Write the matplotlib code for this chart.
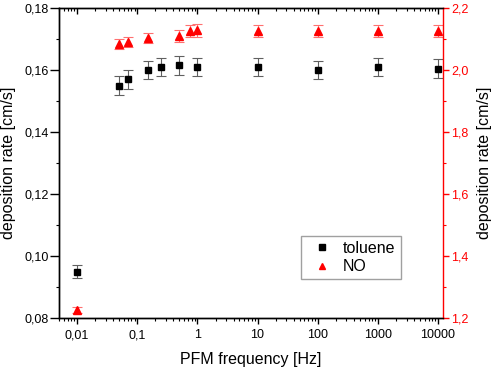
import numpy as np
import matplotlib
matplotlib.use('Agg')
import matplotlib.pyplot as plt
from matplotlib.ticker import FixedLocator, LogLocator, MultipleLocator, FuncFormatter, NullFormatter

plt.rcParams['font.family'] = ['Liberation Sans', 'DejaVu Sans']

# toluene (left axis)
tol_freq = [0.01, 0.05, 0.07, 0.15, 0.25, 0.5, 1, 10, 100, 1000, 10000]
tol_rate = [0.095, 0.155, 0.157, 0.160, 0.161, 0.1615, 0.161, 0.161, 0.160, 0.161, 0.1605]
tol_err = [0.002, 0.003, 0.003, 0.003, 0.003, 0.003, 0.003, 0.003, 0.003, 0.003, 0.003]

# NO (right axis)
no_freq = [0.01, 0.05, 0.07, 0.15, 0.5, 0.75, 1, 10, 100, 1000, 10000]
no_rate = [1.226, 2.084, 2.09, 2.104, 2.11, 2.127, 2.128, 2.127, 2.127, 2.127, 2.127]
no_err = [0.01, 0.017, 0.017, 0.017, 0.02, 0.02, 0.02, 0.02, 0.02, 0.02, 0.02]

xticks = [0.01, 0.1, 1, 10, 100, 1000, 10000]
xtick_labels = ['0,01', '0,1', '1', '10', '100', '1000', '10000']

red = '#ff0000'

fig = plt.figure(figsize=(4.98, 3.70), dpi=100)
ax = fig.add_axes([0.1185, 0.1405, 0.771, 0.8375])
ax2 = ax.twinx()
ax2.xaxis.set_visible(True)

ax.errorbar(tol_freq, tol_rate, yerr=tol_err, fmt='s', color='black', ms=4.5,
            ecolor='#606060', elinewidth=0.8, capsize=3.5, capthick=0.8, label='toluene')
ax2.errorbar(no_freq, no_rate, yerr=no_err, fmt='^', color=red, ms=6,
             ecolor='#ff7070', elinewidth=0.8, capsize=3.5, capthick=0.8, label='NO')

ax.set_xscale('log')
ax.set_xlim(0.005, 12100)
ax.set_ylim(0.08, 0.18)
ax2.set_ylim(1.2, 2.2)

ax.xaxis.set_major_locator(FixedLocator(xticks))
ax.set_xticklabels(xtick_labels)
ax.xaxis.set_minor_locator(LogLocator(base=10, subs=np.arange(2, 10), numticks=200))
ax.xaxis.set_minor_formatter(NullFormatter())

ax.yaxis.set_major_locator(MultipleLocator(0.02))
ax.yaxis.set_minor_locator(MultipleLocator(0.01))
ax.yaxis.set_major_formatter(FuncFormatter(lambda v, p: '{:.2f}'.format(v).replace('.', ',')))
ax2.yaxis.set_major_locator(MultipleLocator(0.2))
ax2.yaxis.set_minor_locator(MultipleLocator(0.1))
ax2.yaxis.set_major_formatter(FuncFormatter(lambda v, p: '{:.1f}'.format(v).replace('.', ',')))

for s in ax.spines.values():
    s.set_linewidth(1.0)
for s in ax2.spines.values():
    s.set_linewidth(1.0)
ax2.spines['right'].set_color(red)
ax.spines['right'].set_visible(False)

ax.tick_params(axis='x', which='major', direction='out', length=4, width=1.0, labelsize=9, pad=4)
ax.tick_params(axis='x', which='minor', direction='out', length=2.5, width=0.8)
ax.tick_params(axis='y', which='major', direction='out', length=6.5, width=1.0, labelsize=9, pad=1)
ax.tick_params(axis='y', which='minor', direction='out', length=2.5, width=0.8)

ax2.tick_params(axis='y', which='major', direction='out', length=4, width=1.0, labelsize=9,
                colors=red, pad=2)
ax2.tick_params(axis='y', which='minor', direction='out', length=2.5, width=0.8, colors=red)
# top ticks pointing inward
ax2.tick_params(axis='x', which='both', top=True, bottom=False, labeltop=False,
                labelbottom=False, direction='in')
ax2.tick_params(axis='x', which='major', length=4, width=1.0)
ax2.tick_params(axis='x', which='minor', length=2.5, width=0.8)

ax.set_xlabel('PFM frequency [Hz]', fontsize=11.5, labelpad=8)
ax.set_ylabel('deposition rate [cm/s]', fontsize=11.5, labelpad=6)
ax2.set_ylabel('deposition rate [cm/s]', fontsize=11.5, labelpad=6)

h1, l1 = ax.get_legend_handles_labels()
h2, l2 = ax2.get_legend_handles_labels()
h1 = [h[0] for h in h1]
h2 = [h[0] for h in h2]
leg = ax2.legend(h1 + h2, l1 + l2, loc='lower left', bbox_to_anchor=(0.63, 0.126),
                 borderaxespad=0, fontsize=11.5, fancybox=False, framealpha=1,
                 edgecolor='#a0a0a0', handlelength=2.0, handletextpad=0.35,
                 borderpad=0.3, labelspacing=0.2)
leg.get_frame().set_linewidth(1.0)
leg.legend_handles[0].set_markersize(4)
leg.legend_handles[1].set_markersize(5)

fig.savefig('out.png', dpi=100)
